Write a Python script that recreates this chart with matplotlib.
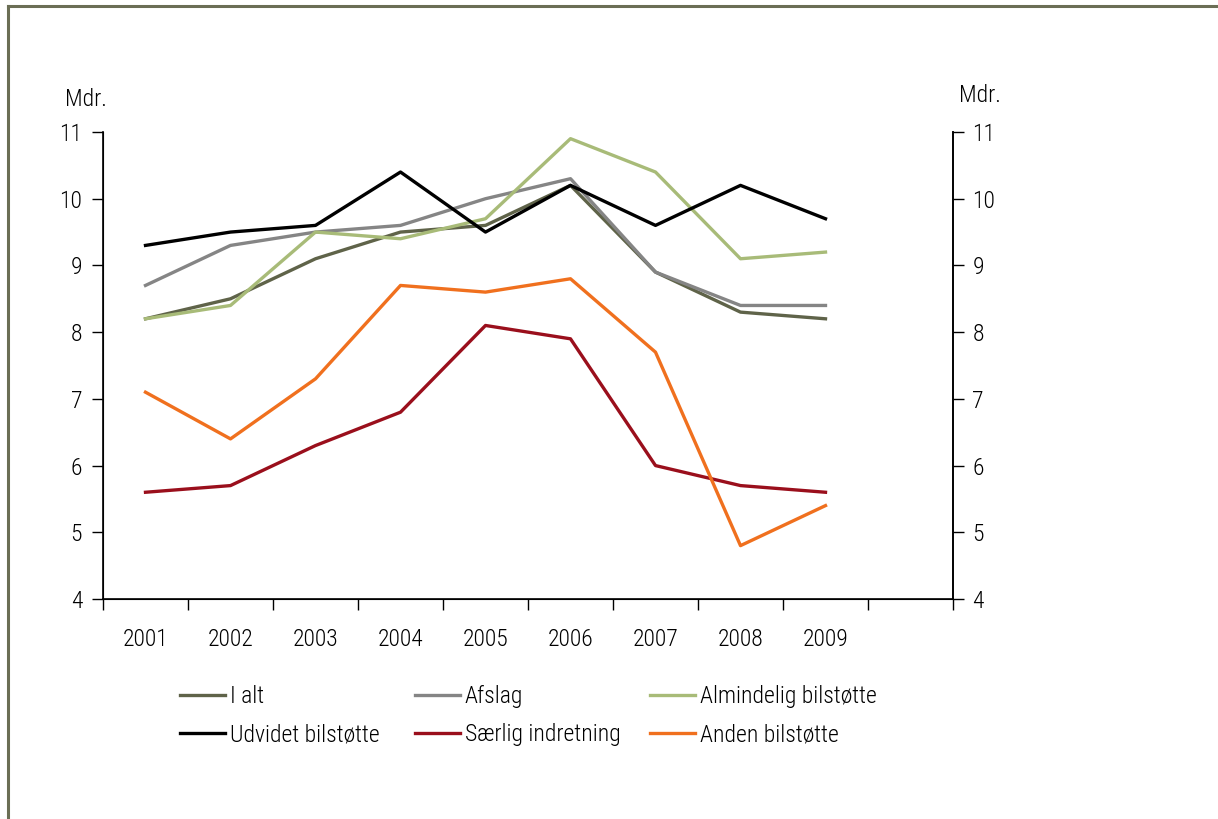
import matplotlib
matplotlib.use("Agg")
import matplotlib.pyplot as plt
from matplotlib.lines import Line2D

plt.rcParams['font.family'] = ['Liberation Sans Narrow', 'Roboto Condensed', 'DejaVu Sans']
plt.rcParams['font.stretch'] = 'condensed'
plt.rcParams['font.weight'] = 'light'

years = ['2001', '2002', '2003', '2004', '2005', '2006', '2007', '2008', '2009']
i_alt = [8.2, 8.5, 9.1, 9.5, 9.6, 10.2, 8.9, 8.3, 8.2]
afslag = [8.7, 9.3, 9.5, 9.6, 10.0, 10.3, 8.9, 8.4, 8.4]
almindelig = [8.2, 8.4, 9.5, 9.4, 9.7, 10.9, 10.4, 9.1, 9.2]
udvidet = [9.3, 9.5, 9.6, 10.4, 9.5, 10.2, 9.6, 10.2, 9.7]
saerlig = [5.6, 5.7, 6.3, 6.8, 8.1, 7.9, 6.0, 5.7, 5.6]
anden = [7.1, 6.4, 7.3, 8.7, 8.6, 8.8, 7.7, 4.8, 5.4]

series = [
    ('I alt', i_alt, '#5f6349'),
    ('Afslag', afslag, '#858585'),
    ('Almindelig bilstøtte', almindelig, '#a8bb78'),
    ('Udvidet bilstøtte', udvidet, '#000000'),
    ('Særlig indretning', saerlig, '#9a0f1c'),
    ('Anden bilstøtte', anden, '#f0701e'),
]

fs = 17
fig = plt.figure(figsize=(12.18, 8.19), dpi=100)
ax = fig.add_axes([103/1218, 1-599/819, 850/1218, 467/819])

x = list(range(len(years)))
handles = {}
for name, vals, col in series:
    ln, = ax.plot(x, vals, color=col, lw=2.4, label=name)
    handles[name] = ln

ax.set_xlim(-0.5, 9.5)
ax.set_ylim(4, 11)
ax.set_yticks(range(4, 12))
ax.set_xticks([i - 0.5 for i in range(11)])
ax.set_xticklabels([])
ax.set_xticks(x, minor=True)
ax.set_xticklabels(years, minor=True)
ax.tick_params(axis='x', which='major', direction='out', length=8, width=1)
ax.tick_params(axis='x', which='minor', length=0, pad=21, labelsize=fs)
ax.tick_params(axis='y', direction='out', length=8, width=1, labelsize=fs, pad=7)
ax.spines['top'].set_visible(False)
for s in ['left', 'right', 'bottom']:
    ax.spines[s].set_linewidth(1.2)

ax2 = ax.twinx()
ax2.set_ylim(4, 11)
ax2.set_yticks(range(4, 12))
ax2.tick_params(axis='y', direction='out', length=8, width=1, labelsize=fs, pad=6)
ax2.spines['top'].set_visible(False)
ax2.spines['right'].set_linewidth(1.2)

fig.text(65/1218, 1-100/819, 'Mdr.', fontsize=fs, va='center', ha='left')
fig.text(959/1218, 1-95/819, 'Mdr.', fontsize=fs, va='center', ha='left')

# legend: three columns placed at fixed positions, two rows each
cols = [['I alt', 'Udvidet bilstøtte'],
        ['Afslag', 'Særlig indretning'],
        ['Almindelig bilstøtte', 'Anden bilstøtte']]
col_x = [180, 415, 650]
for names, cx in zip(cols, col_x):
    leg = fig.legend([handles[n] for n in names], names, loc='upper left',
                     bbox_to_anchor=(cx/1218, 1-685/819), frameon=False, fontsize=fs,
                     handlelength=1.9, handletextpad=0.2, labelspacing=0.65,
                     borderaxespad=0, borderpad=0)

# figure frame (top and left edges)
fig.add_artist(Line2D([8/1218, 8/1218], [0, 1-6/819], color='#6b6e55', lw=2.2,
                      transform=fig.transFigure))
fig.add_artist(Line2D([8/1218, 1], [1-6/819, 1-6/819], color='#6b6e55', lw=2.2,
                      transform=fig.transFigure))

fig.savefig('out.png', dpi=100)
